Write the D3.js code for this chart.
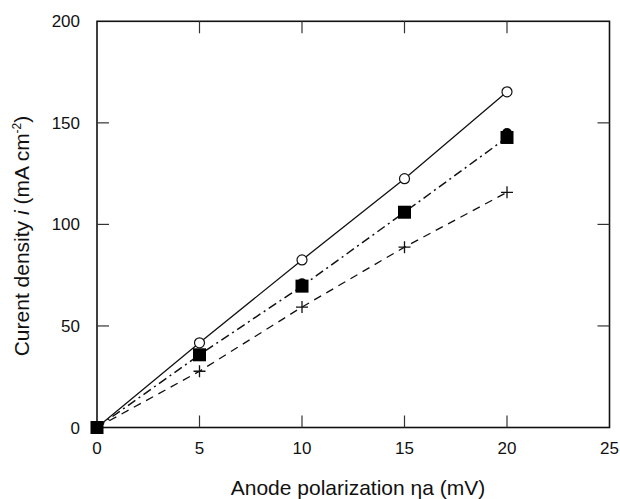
<!DOCTYPE html>
<html>
<head>
<meta charset="utf-8">
<script src="https://cdn.jsdelivr.net/npm/d3@7"></script>
<style>
  body { margin: 0; background: #fff; }
  text { font-family: "Liberation Sans", Arial, sans-serif; fill: #111; }
</style>
</head>
<body>
<svg id="chart" width="620" height="499"></svg>
<script>
// data
var polarization = [0, 5, 10, 15, 20]
var openCircles = [0, 41.7, 82.5, 122.5, 165.3]
var filledCircles = [0, 36, 71, 106, 145]
var filledSquares = [0, 35.8, 69.6, 106, 142.8]
var crosses = [0, 27.7, 59.3, 88.8, 115.8]
var xTicks = [0, 5, 10, 15, 20, 25]
var yTicks = [0, 50, 100, 150, 200]

var svg = d3.select('#chart')
var plotLeft = 97, plotRight = 609.5, plotTop = 21.3, plotBottom = 427.5

var x = d3.scaleLinear().domain([0, 25]).range([plotLeft, plotRight])
var y = d3.scaleLinear().domain([0, 200]).range([plotBottom, plotTop])

// frame
svg.append('rect')
    .attr('x', plotLeft).attr('y', plotTop)
    .attr('width', plotRight - plotLeft).attr('height', plotBottom - plotTop)
    .attr('fill', 'none').attr('stroke', '#111').attr('stroke-width', 1.6)

// inner ticks on all four sides
var inner = [5, 10, 15, 20]
var yInner = [50, 100, 150]
var tickLen = 12
svg.selectAll('.tb').data(inner).enter().append('line')
    .attr('x1', d => x(d)).attr('x2', d => x(d))
    .attr('y1', plotBottom).attr('y2', plotBottom - tickLen)
    .attr('stroke', '#333').attr('stroke-width', 1.2)
svg.selectAll('.tt').data(inner).enter().append('line')
    .attr('x1', d => x(d)).attr('x2', d => x(d))
    .attr('y1', plotTop).attr('y2', plotTop + tickLen)
    .attr('stroke', '#333').attr('stroke-width', 1.2)
svg.selectAll('.tl').data(yInner).enter().append('line')
    .attr('x1', plotLeft).attr('x2', plotLeft + tickLen)
    .attr('y1', d => y(d)).attr('y2', d => y(d))
    .attr('stroke', '#333').attr('stroke-width', 1.2)
svg.selectAll('.tr').data(yInner).enter().append('line')
    .attr('x1', plotRight).attr('x2', plotRight - tickLen)
    .attr('y1', d => y(d)).attr('y2', d => y(d))
    .attr('stroke', '#333').attr('stroke-width', 1.2)

// tick labels
svg.selectAll('.xl').data(xTicks).enter().append('text')
    .attr('x', d => x(d)).attr('y', 454)
    .attr('text-anchor', 'middle').style('font-size', '17px')
    .text(d => d)
svg.selectAll('.yl').data(yTicks).enter().append('text')
    .attr('x', 80).attr('y', d => y(d) + 6)
    .attr('text-anchor', 'end').style('font-size', '17px')
    .text(d => d)

// axis titles
svg.append('text')
    .attr('x', 358).attr('y', 495)
    .attr('text-anchor', 'middle').style('font-size', '21px')
    .text('Anode polarization \u03b7a (mV)')

var yt = svg.append('text')
    .attr('transform', 'translate(29,236) rotate(-90)')
    .attr('text-anchor', 'middle').style('font-size', '21px')
yt.append('tspan').text('Curent density ')
yt.append('tspan').style('font-style', 'italic').text('i')
yt.append('tspan').text(' (mA cm')
yt.append('tspan').attr('dy', -8).style('font-size', '12px').text('-2')
yt.append('tspan').attr('dy', 8).text(')')

// lines
function pts(vals) { return polarization.map((p, i) => [p, vals[i]]) }
var line = d3.line().x(d => x(d[0])).y(d => y(d[1]))

svg.append('path').datum(pts(openCircles))
    .attr('d', line).attr('fill', 'none')
    .attr('stroke', '#111').attr('stroke-width', 1.3)
svg.append('path').datum(pts(filledSquares))
    .attr('d', line).attr('fill', 'none')
    .attr('stroke', '#111').attr('stroke-width', 1.5)
    .attr('stroke-dasharray', '9,4,2,4')
svg.append('path').datum(pts(crosses))
    .attr('d', line).attr('fill', 'none')
    .attr('stroke', '#111').attr('stroke-width', 1.3)
    .attr('stroke-dasharray', '8,6')

// markers
svg.selectAll('.oc').data(pts(openCircles)).enter().append('circle')
    .attr('cx', d => x(d[0])).attr('cy', d => y(d[1])).attr('r', 5)
    .attr('fill', '#fff').attr('stroke', '#111').attr('stroke-width', 1.2)
svg.selectAll('.cr').data(pts(crosses)).enter().append('path')
    .attr('d', d => 'M' + (x(d[0]) - 6) + ',' + y(d[1]) + 'h12M' + x(d[0]) + ',' + (y(d[1]) - 6) + 'v12')
    .attr('fill', 'none').attr('stroke', '#111').attr('stroke-width', 1.3)
svg.selectAll('.fc').data(pts(filledCircles)).enter().append('circle')
    .attr('cx', d => x(d[0])).attr('cy', d => y(d[1])).attr('r', 5)
    .attr('fill', '#000')
svg.selectAll('.sq').data(pts(filledSquares)).enter().append('rect')
    .attr('x', d => x(d[0]) - 6.5).attr('y', d => y(d[1]) - 6.5)
    .attr('width', 13).attr('height', 13)
    .attr('fill', '#000')
</script>
</body>
</html>
